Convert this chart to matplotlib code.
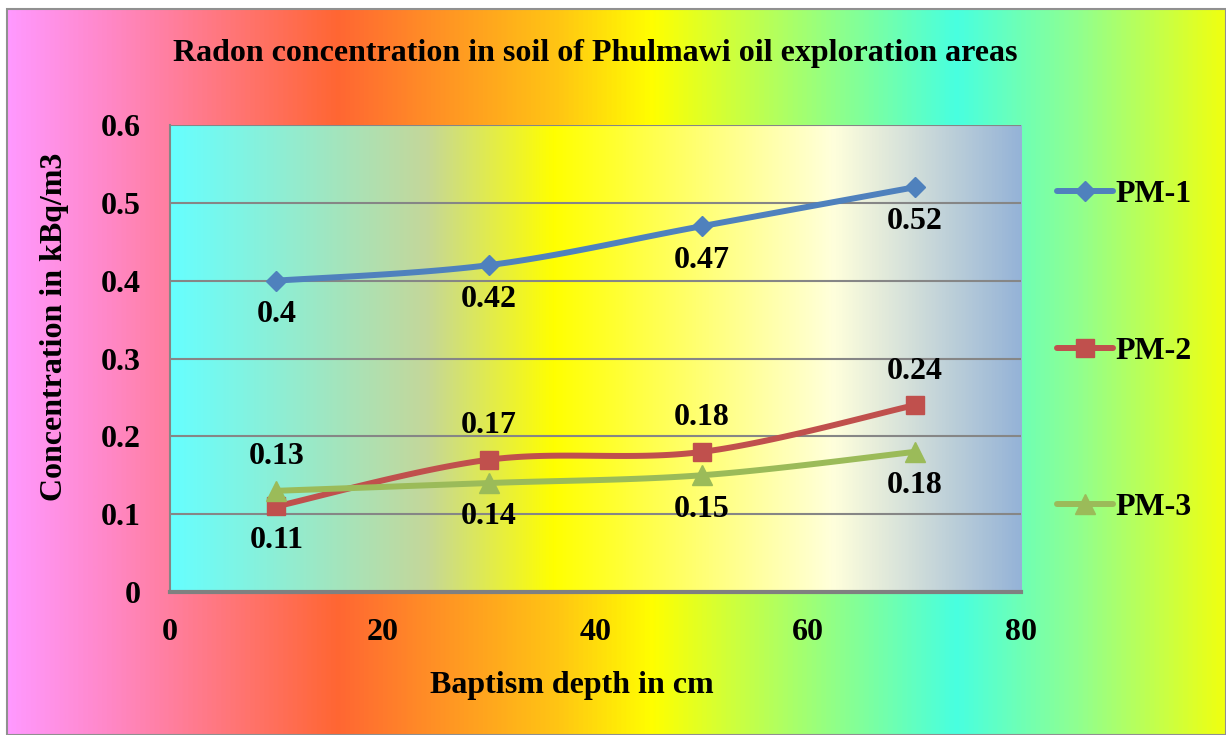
import numpy as np
import matplotlib.pyplot as plt
from matplotlib.colors import LinearSegmentedColormap
from matplotlib.patches import Rectangle

# Data
depth = [10, 30, 50, 70]
pm1 = [0.40, 0.42, 0.47, 0.52]
pm2 = [0.11, 0.17, 0.18, 0.24]
pm3 = [0.13, 0.14, 0.15, 0.18]
series_names = ['PM-1', 'PM-2', 'PM-3']
x_ticks = [0, 20, 40, 60, 80]
y_ticks = [0, 0.1, 0.2, 0.3, 0.4, 0.5, 0.6]

plt.rcParams['font.family'] = ['Liberation Serif', 'DejaVu Serif']
plt.rcParams['font.weight'] = 'bold'
FS = 23

W, H = 1226, 735
fig = plt.figure(figsize=(W / 100, H / 100), dpi=100)
fig.patch.set_facecolor('white')

# rainbow backdrop for the whole chart
chart_cmap = LinearSegmentedColormap.from_list('chart', [
    (0.00, '#FF99FF'), (0.08, '#FF88C8'), (0.27, '#FF6633'),
    (0.45, '#FFC414'), (0.53, '#FFFF00'), (0.63, '#B4FF5C'),
    (0.78, '#48FFE0'), (0.88, '#90FF90'), (1.00, '#F0FF10')])
bg = fig.add_axes([7 / W, 0, 1 - 7 / W, 1 - 9 / H], zorder=-10)
bg.imshow(np.linspace(0, 1, 512)[None, :], cmap=chart_cmap, aspect='auto',
          extent=(0, 1, 0, 1))
bg.set_xlim(0, 1)
bg.set_ylim(0, 1)
bg.axis('off')
bg.add_patch(Rectangle((0, 0), 1, 1, fill=False, edgecolor='#909090',
                       linewidth=1.5, transform=bg.transAxes, clip_on=False))

# plot area
left, right, top, bottom = 170, 1021, 125, 592
ax = fig.add_axes([left / W, 1 - bottom / H, (right - left) / W, (bottom - top) / H])
ax.set_facecolor('none')
area_cmap = LinearSegmentedColormap.from_list('area', [
    (0.00, '#66FFFF'), (0.30, '#C4D79A'), (0.45, '#FFFF00'),
    (0.78, '#FFFFDC'), (1.00, '#95B3D7')])
ax.imshow(np.linspace(0, 1, 512)[None, :], cmap=area_cmap, aspect='auto',
          extent=(0, 80, 0, 0.6), zorder=0)
ax.set_xlim(0, 80)
ax.set_ylim(0, 0.6)
ax.set_xticks(x_ticks)
ax.set_yticks(y_ticks)
ax.set_xticklabels([str(t) for t in x_ticks])
ax.set_yticklabels(['0' if t == 0 else f'{t:g}' for t in y_ticks])
ax.tick_params(length=0, labelsize=FS)
ax.tick_params(axis='x', pad=19)
ax.tick_params(axis='y', pad=21)
ax.grid(axis='y', color='#868686', linewidth=1.5, zorder=1)
for side in ['top', 'right']:
    ax.spines[side].set_visible(False)
ax.spines['left'].set_color('#868686')
ax.spines['left'].set_linewidth(1.5)
ax.spines['bottom'].set_color('#808080')
ax.spines['bottom'].set_linewidth(3)


def smooth(xs, ys, n=40):
    # Bezier smoothing in screen-proportional space
    sx, sy = (right - left) / 80, (bottom - top) / 0.6
    p = np.column_stack([np.array(xs) * sx, np.array(ys) * sy])
    p = np.vstack([p[0], p, p[-1]])
    out = []
    for i in range(1, len(p) - 2):
        p0, p1, p2, p3 = p[i - 1], p[i], p[i + 1], p[i + 2]
        c1 = p1 + (p2 - p0) / 6
        c2 = p2 - (p3 - p1) / 6
        t = np.linspace(0, 1, n)[:, None]
        seg = ((1 - t) ** 3) * p1 + 3 * ((1 - t) ** 2) * t * c1 \
            + 3 * (1 - t) * t ** 2 * c2 + t ** 3 * p2
        out.append(seg)
    out = np.vstack(out)
    return out[:, 0] / sx, out[:, 1] / sy


styles = [
    (pm1, '#4F81BD', 'D', 10, ['below', 'below', 'below', 'below']),
    (pm2, '#C0504D', 's', 13, ['below', 'above', 'above', 'above']),
    (pm3, '#9BBB59', '^', 14, ['above', 'below', 'below', 'below']),
]
handles = []
for (vals, color, marker, ms, places), name in zip(styles, series_names):
    cx, cy = smooth(depth, vals)
    ax.plot(cx, cy, color=color, linewidth=4.3, solid_capstyle='round', zorder=3)
    ax.plot(depth, vals, linestyle='none', marker=marker, markersize=ms,
            color=color, zorder=4)
    h, = ax.plot([], [], color=color, linewidth=4.3, marker=marker,
                 markersize=ms, solid_capstyle='round')
    handles.append(h)
    for x, y, pos in zip(depth, vals, places):
        dy = -14 if pos == 'below' else 14
        ax.annotate(f'{y:g}', (x, y), xytext=(0, dy), textcoords='offset points',
                    ha='center', va='top' if pos == 'below' else 'bottom',
                    fontsize=FS, fontweight='bold', zorder=5)

fig.legend(handles, series_names, loc='center left',
           bbox_to_anchor=(1028 / W, 1 - 351 / H), frameon=False,
           fontsize=FS, labelspacing=3.97, handlelength=1.75, handletextpad=0.1)

fig.text(595 / W, 1 - 53 / H, 'Radon concentration in soil of Phulmawi oil exploration areas',
         ha='center', va='center', fontsize=FS, fontweight='bold')
ax.set_xlabel('Baptism depth in cm', fontsize=FS, fontweight='bold')
ax.set_ylabel('Concentration in kBq/m3', fontsize=FS, fontweight='bold')
ax.xaxis.set_label_coords((572 - left) / (right - left), (bottom - 686) / (bottom - top))
ax.yaxis.set_label_coords((55 - left) / (right - left), (bottom - 327) / (bottom - top))
ax.xaxis.label.set_va('center')
ax.yaxis.label.set_va('center')

fig.savefig('out.png', dpi=100)
